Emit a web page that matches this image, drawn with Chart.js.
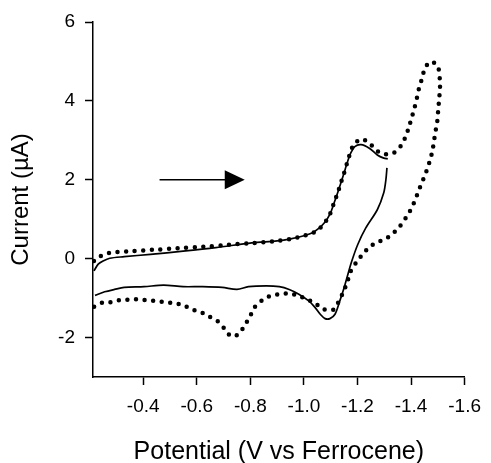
<!DOCTYPE html>
<html>
<head>
<meta charset="utf-8">
<script src="https://cdn.jsdelivr.net/npm/chart.js@4"></script>
<style>
  body { margin: 0; background: #fff; }
</style>
</head>
<body>
<canvas id="cvChart" width="491" height="463"></canvas>
<script>
'use strict'

// scan 1 (solid), potential in V vs Fc, current in uA. null = pen lift
let solidPotential = [-0.216, -0.232, -0.250, -0.275, -0.329, -0.427, -0.549, -0.671, -0.805, -0.90,
  -0.95, -1.00, -1.03, -1.054, -1.079, -1.098, -1.112, -1.125, -1.137, -1.149,
  -1.160, -1.175, -1.19, -1.213, -1.244, -1.274, -1.298, -1.313, -1.312, -1.310,
  -1.306, -1.298, -1.274, -1.231, -1.201, -1.177, -1.152, -1.134, -1.116, -1.097,
  -1.079, -1.061, -1.042, -1.018, -0.981, -0.945, -0.908, -0.860, -0.793, -0.750,
  -0.695, -0.622, -0.549, -0.476, -0.403, -0.329, -0.293, -0.256, -0.220];
let solidCurrent = [-0.31, -0.14, -0.06, 0.01, 0.05, 0.11, 0.19, 0.28, 0.40, 0.45,
  0.50, 0.58, 0.65, 0.76, 0.93, 1.14, 1.40, 1.65, 1.90, 2.15,
  2.40, 2.68, 2.84, 2.89, 2.80, 2.63, 2.55, 2.53, null, 2.30,
  2.00, 1.67, 1.24, 0.78, 0.36, -0.10, -0.69, -1.07, -1.41, -1.52,
  -1.52, -1.41, -1.24, -1.07, -0.90, -0.78, -0.71, -0.69, -0.71, -0.78,
  -0.73, -0.71, -0.71, -0.67, -0.71, -0.73, -0.78, -0.84, -0.93];

// scan 2 (dotted)
let dottedPotential = [-0.216, -0.242, -0.275, -0.305, -0.35, -0.40, -0.45, -0.50, -0.55, -0.60,
  -0.65, -0.70, -0.75, -0.80, -0.85, -0.90, -0.95, -1.00, -1.03, -1.054,
  -1.079, -1.098, -1.112, -1.125, -1.137, -1.149, -1.160, -1.171, -1.186, -1.215,
  -1.244, -1.272, -1.302, -1.335, -1.362, -1.380, -1.392, -1.403, -1.413, -1.422,
  -1.430, -1.441, -1.451, -1.471, -1.499, -1.508, -1.507, -1.504, -1.501, -1.498,
  -1.492, -1.486, -1.480, -1.471, -1.459, -1.445, -1.430, -1.416, -1.400, -1.380,
  -1.357, -1.331, -1.302, -1.274, -1.244, -1.219, -1.195, -1.174, -1.162, -1.148,
  -1.131, -1.109, -1.073, -1.042, -1.012, -0.979, -0.945, -0.908, -0.875, -0.845,
  -0.817, -0.799, -0.780, -0.756, -0.729, -0.703, -0.677, -0.644, -0.614, -0.582,
  -0.549, -0.515, -0.479, -0.445, -0.411, -0.378, -0.344, -0.314, -0.281, -0.250,
  -0.216];
let dottedCurrent = [-0.06, 0.07, 0.15, 0.17, 0.19, 0.21, 0.23, 0.25, 0.27, 0.29,
  0.31, 0.34, 0.37, 0.39, 0.42, 0.45, 0.50, 0.58, 0.64, 0.74,
  0.92, 1.14, 1.41, 1.65, 1.90, 2.15, 2.40, 2.64, 2.89, 3.03,
  2.93, 2.74, 2.65, 2.68, 2.86, 3.10, 3.34, 3.59, 3.83, 4.08,
  4.33, 4.57, 4.81, 4.99, 4.89, 4.47, 4.23, 3.98, 3.74, 3.49,
  3.25, 3.00, 2.74, 2.50, 2.25, 2.00, 1.75, 1.50, 1.26, 1.03,
  0.81, 0.63, 0.49, 0.42, 0.29, 0.11, -0.10, -0.33, -0.59, -0.83,
  -1.07, -1.30, -1.28, -1.13, -1.03, -0.94, -0.88, -0.90, -0.94, -1.05,
  -1.22, -1.46, -1.68, -1.91, -1.97, -1.77, -1.58, -1.46, -1.35, -1.29,
  -1.18, -1.13, -1.10, -1.07, -1.05, -1.03, -1.04, -1.05, -1.10, -1.11,
  -1.22];

let xTicks = [-0.4, -0.6, -0.8, -1.0, -1.2, -1.4, -1.6];
let yTicks = [-2, 0, 2, 4, 6];

// sweep direction arrow, data units
let arrowStart = [-0.461, 2.0];
let arrowEnd = [-0.779, 2.0];

const fontFamily = '"Liberation Sans", Arial, Helvetica, sans-serif';

function toPoints(xs, ys) {
  let pts = [];
  for (let i = 0; i < xs.length; i++) {
    pts.push({ x: xs[i], y: ys[i] });
  }
  return pts;
}

const sweepArrow = {
  id: 'sweepArrow',
  afterDatasetsDraw(chart) {
    const ctx = chart.ctx;
    const xs = chart.scales.x;
    const ys = chart.scales.y;
    let x0 = xs.getPixelForValue(arrowStart[0]);
    let x1 = xs.getPixelForValue(arrowEnd[0]);
    let y0 = ys.getPixelForValue(arrowStart[1]);
    let headLen = 20;
    let headHalf = 9.5;
    ctx.save();
    ctx.strokeStyle = '#000';
    ctx.fillStyle = '#000';
    ctx.lineWidth = 1.6;
    ctx.beginPath();
    ctx.moveTo(x0, y0);
    ctx.lineTo(x1 - headLen + 1, y0);
    ctx.stroke();
    ctx.beginPath();
    ctx.moveTo(x1, y0);
    ctx.lineTo(x1 - headLen, y0 - headHalf);
    ctx.lineTo(x1 - headLen, y0 + headHalf);
    ctx.closePath();
    ctx.fill();
    ctx.restore();
  }
};

const axisGrid = {
  drawOnChartArea: false,
  drawTicks: true,
  tickLength: 8,
  tickWidth: 1.5,
  color: '#000'
};

const config = {
  type: 'scatter',
  data: {
    datasets: [
      {
        label: 'scan 1',
        data: toPoints(solidPotential, solidCurrent),
        showLine: true,
        spanGaps: false,
        borderColor: '#000',
        borderWidth: 1.7,
        pointRadius: 0,
        tension: 0.3
      },
      {
        label: 'scan 2',
        data: toPoints(dottedPotential, dottedCurrent),
        showLine: true,
        borderColor: '#000',
        borderWidth: 4.5,
        borderCapStyle: 'round',
        borderDash: [0, 8.6],
        pointRadius: 0,
        tension: 0.3
      }
    ]
  },
  options: {
    responsive: false,
    animation: false,
    layout: { padding: { top: 22, right: 19, left: 0, bottom: 0 } },
    plugins: {
      legend: { display: false },
      tooltip: { enabled: false }
    },
    scales: {
      x: {
        type: 'linear',
        reverse: true,
        min: -1.6,
        max: -0.2125,
        grid: axisGrid,
        border: { display: true, color: '#000', width: 1.5 },
        afterBuildTicks: (scale) => { scale.ticks = xTicks.map(v => ({ value: v })); },
        afterFit: (scale) => { scale.height = 86; },
        ticks: {
          autoSkip: false,
          maxRotation: 0,
          padding: 10,
          color: '#000',
          font: { family: fontFamily, size: 19 },
          callback: (v) => v.toFixed(1)
        },
        title: {
          display: true,
          text: 'Potential (V vs Ferrocene)',
          color: '#000',
          padding: 0,
          font: { family: fontFamily, size: 25, lineHeight: 0.9 }
        }
      },
      y: {
        type: 'linear',
        min: -3,
        max: 6,
        grid: axisGrid,
        border: { display: true, color: '#000', width: 1.5 },
        afterBuildTicks: (scale) => { scale.ticks = yTicks.map(v => ({ value: v })); },
        afterFit: (scale) => { scale.width = 93; },
        ticks: {
          autoSkip: false,
          padding: 10,
          color: '#000',
          font: { family: fontFamily, size: 19 },
          callback: (v) => String(v)
        },
        title: {
          display: true,
          text: 'Current (\u00b5A)',
          color: '#000',
          padding: { top: 7, bottom: 0 },
          font: { family: fontFamily, size: 24, lineHeight: 1.2 }
        }
      }
    }
  },
  plugins: [sweepArrow]
};

let cvChart = new Chart(document.getElementById('cvChart'), config);
</script>
</body>
</html>
